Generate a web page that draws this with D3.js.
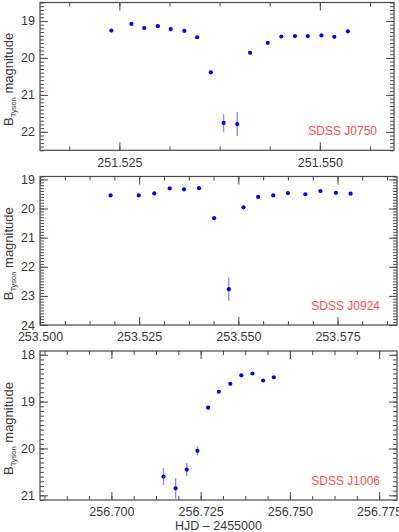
<!DOCTYPE html>
<html><head><meta charset="utf-8">
<script src="https://cdn.jsdelivr.net/npm/d3@7"></script>
<style>
html,body{margin:0;padding:0;background:#fff;}
svg{display:block;font-family:"Liberation Sans",Arial,Helvetica,sans-serif;}
</style></head>
<body><svg id="chart" width="399" height="532"></svg>
<script>
// ---- data ----
const hjd1 = [251.5240,251.5265,251.5281,251.5298,251.5314,251.5331,251.5347,251.5364,251.5380,251.5397,251.5413,251.5435,251.5452,251.5469,251.5485,251.5502,251.5518,251.5535];
const mag1 = [19.26,19.08,19.19,19.14,19.22,19.27,19.44,20.39,21.76,21.79,19.86,19.59,19.42,19.41,19.41,19.39,19.43,19.28];
const err1 = [0.02,0.02,0.02,0.02,0.02,0.02,0.03,0.05,0.235,0.32,0.04,0.03,0.02,0.02,0.02,0.02,0.02,0.02];

const hjd2 = [253.5178,253.5249,253.5288,253.5327,253.5363,253.5401,253.5439,253.5476,253.5513,253.5550,253.5588,253.5625,253.5669,253.5707,253.5746,253.5783];
const mag2 = [19.55,19.55,19.48,19.31,19.34,19.30,20.33,22.77,19.96,19.60,19.55,19.47,19.51,19.40,19.46,19.49];
const err2 = [0.02,0.02,0.02,0.02,0.02,0.02,0.05,0.40,0.04,0.03,0.02,0.02,0.02,0.02,0.02,0.02];

const hjd3 = [256.7146,256.7180,256.7211,256.7241,256.7271,256.7301,256.7333,256.7364,256.7395,256.7425,256.7455];
const mag3 = [20.60,20.85,20.45,20.05,19.13,18.79,18.62,18.44,18.40,18.55,18.48];
const err3 = [0.18,0.22,0.14,0.10,0.04,0.02,0.02,0.02,0.02,0.02,0.02];

const names = ["SDSS J0750","SDSS J0924","SDSS J1006"];
const xTicks1 = [251.525,251.550];
const xTicks2 = [253.500,253.525,253.550,253.575];
const xTicks3 = [256.700,256.725,256.750,256.775];
const yTicks1 = [19,20,21,22];
const yTicks2 = [19,20,21,22,23,24];
const yTicks3 = [18,19,20,21];
const xLabel = "HJD \u2013 2455000";

// ---- layout ----
const svg = d3.select("#chart");
const panels = [
  {hjd:hjd1, mag:mag1, err:err1, name:names[0], xt:xTicks1, yt:yTicks1,
   xd:[251.5151,251.55925], yd:[18.5,22.5], left:40, right:394, top:2.5, bottom:150.3},
  {hjd:hjd2, mag:mag2, err:err2, name:names[1], xt:xTicks2, yt:yTicks2,
   xd:[253.500,253.590], yd:[18.9,24.0], left:40, right:397, top:176.5, bottom:325},
  {hjd:hjd3, mag:mag3, err:err3, name:names[2], xt:xTicks3, yt:yTicks3,
   xd:[256.680,256.780], yd:[17.92,21.1], left:40, right:397, top:351, bottom:500}
];

const lineCol = "#4a4a4a", textCol = "#3a3a3a";

function range(a, b, step){
  const out = [];
  const n0 = Math.ceil(a/step - 1e-6), n1 = Math.floor(b/step + 1e-6);
  for (let i=n0;i<=n1;i++) out.push(+(i*step).toFixed(6));
  return out;
}

panels.forEach((p, i) => {
  const x = d3.scaleLinear().domain(p.xd).range([p.left, p.right]);
  const y = d3.scaleLinear().domain(p.yd).range([p.top, p.bottom]);
  const g = svg.append("g");
  const W = p.right - p.left, H = p.bottom - p.top;

  const xMinor = range(p.xd[0], p.xd[1], 0.00625);
  const yMinor = range(p.yd[0], p.yd[1], 0.1);
  const yMajor = p.yt.filter(v => v >= Math.min(...p.yd)-1e-6 && v <= Math.max(...p.yd)+1e-6);

  function styleAxis(sel){
    sel.select(".domain").remove();
    sel.selectAll("line").attr("stroke", lineCol).attr("stroke-width", 1);
    sel.selectAll("text").attr("fill", textCol).attr("font-size", 12.5)
      .attr("font-family", "'Liberation Sans',Arial,sans-serif");
  }

  // bottom
  g.append("g").attr("transform", `translate(0,${p.bottom})`)
    .call(d3.axisBottom(x).tickValues(xMinor).tickSize(-4).tickFormat(""))
    .call(styleAxis);
  g.append("g").attr("transform", `translate(0,${p.bottom})`)
    .call(d3.axisBottom(x).tickValues(p.xt).tickSize(-8).tickPadding(7.5).tickFormat(d3.format(".3f")))
    .call(styleAxis);
  // top
  g.append("g").attr("transform", `translate(0,${p.top})`)
    .call(d3.axisTop(x).tickValues(xMinor).tickSize(-4).tickFormat(""))
    .call(styleAxis);
  g.append("g").attr("transform", `translate(0,${p.top})`)
    .call(d3.axisTop(x).tickValues(p.xt).tickSize(-8).tickFormat(""))
    .call(styleAxis);
  // left
  g.append("g").attr("transform", `translate(${p.left},0)`)
    .call(d3.axisLeft(y).tickValues(yMinor).tickSize(-4).tickFormat(""))
    .call(styleAxis);
  g.append("g").attr("transform", `translate(${p.left},0)`)
    .call(d3.axisLeft(y).tickValues(yMajor).tickSize(-8).tickPadding(5).tickFormat(d3.format("d")))
    .call(styleAxis);
  // right
  g.append("g").attr("transform", `translate(${p.right},0)`)
    .call(d3.axisRight(y).tickValues(yMinor).tickSize(-4).tickFormat(""))
    .call(styleAxis);
  g.append("g").attr("transform", `translate(${p.right},0)`)
    .call(d3.axisRight(y).tickValues(yMajor).tickSize(-8).tickFormat(""))
    .call(styleAxis);

  // box
  g.append("rect").attr("x", p.left).attr("y", p.top).attr("width", W).attr("height", H)
    .attr("fill", "none").attr("stroke", lineCol).attr("stroke-width", 1.2);

  // clip
  const cid = "clip" + i;
  svg.append("clipPath").attr("id", cid).append("rect")
    .attr("x", p.left).attr("y", p.top).attr("width", W).attr("height", H);
  const dg = g.append("g").attr("clip-path", `url(#${cid})`);

  const data = p.hjd.map((h, k) => ({h, m:p.mag[k], e:p.err[k]}));
  dg.selectAll("line.err").data(data).enter().append("line")
    .attr("x1", d => x(d.h)).attr("x2", d => x(d.h))
    .attr("y1", d => y(d.m - d.e)).attr("y2", d => y(d.m + d.e))
    .attr("stroke", "#5a6cff").attr("stroke-width", 1.4).attr("stroke-opacity", 0.75);
  dg.selectAll("circle").data(data).enter().append("circle")
    .attr("cx", d => x(d.h)).attr("cy", d => y(d.m)).attr("r", 2.1)
    .attr("fill", "#0000ff");

  // name label
  g.append("text").attr("x", p.right - 17).attr("y", p.bottom - 15.5)
    .attr("text-anchor", "end").attr("fill", "#ff4d4d").attr("font-size", 12)
    .text(p.name);

  // y title
  const cy = (p.top + p.bottom) / 2 + 3;
  const t = g.append("text").attr("transform", `translate(12.5,${cy}) rotate(-90)`)
    .attr("text-anchor", "middle").attr("fill", textCol).attr("font-size", 13);
  t.append("tspan").text("B");
  t.append("tspan").attr("font-size", 7.5).attr("dy", 3).text("Tyson");
  t.append("tspan").attr("dy", -3).text(" magnitude");
});

// x title
svg.append("text").attr("x", 218.5).attr("y", 529.5).attr("text-anchor", "middle")
  .attr("fill", textCol).attr("font-size", 12.5).text(xLabel);
</script>
</body></html>
